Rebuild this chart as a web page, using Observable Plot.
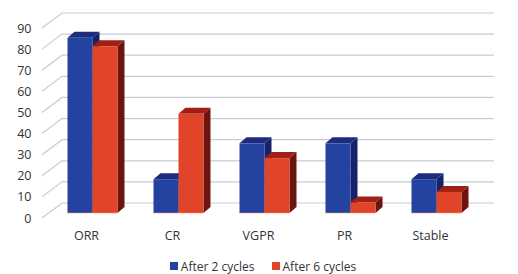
<!DOCTYPE html>
<html>
<head>
<meta charset="utf-8">
<script src="https://cdn.jsdelivr.net/npm/d3@7"></script>
<script src="https://cdn.jsdelivr.net/npm/@observablehq/plot@0.6"></script>
<style>
  body { margin: 0; background: #fff; font-family: "Open Sans", sans-serif; }
  #chart { width: 518px; height: 274px; overflow: hidden; }
  .legend { display: flex; justify-content: center; gap: 17px; font-size: 12px; color: #333; height: 24px; align-items: center; margin-top: 4px; padding-left: 8px; }
  .legend span { display: inline-flex; align-items: center; }
  .legend i { display: inline-block; width: 8px; height: 8px; margin-right: 3px; }
</style>
</head>
<body>
<div id="chart"></div>
<script>
// Response rates (%) by category after 2 and 6 treatment cycles
const categories = ["ORR", "CR", "VGPR", "PR", "Stable"];
const seriesNames = ["After 2 cycles", "After 6 cycles"];
const after2 = [83, 16, 33, 33, 16];
const after6 = [79, 47, 26, 5, 10];
const yTicks = [0, 10, 20, 30, 40, 50, 60, 70, 80, 90];

// Face shading for the extruded columns: front, top, side
const faceColors = {
  "After 2 cycles": { front: "#2442a0", top: "#1d2c7e", side: "#18226a" },
  "After 6 cycles": { front: "#e0452a", top: "#a11f15", side: "#6c150e" }
};

const rows = [];
categories.forEach((c, i) => {
  rows.push({ cat: c, series: seriesNames[0], value: after2[i], s: 0 });
  rows.push({ cat: c, series: seriesNames[1], value: after6[i], s: 1 });
});

const W = 518, H = 250;
const wall = { dx: 20, dy: -15 };   // offset of the back wall
const bar = { offset: 24.5, width: 25, lift: 5, depthX: 7, depthY: -6 };

// Gridlines: a diagonal on the side wall, then across the back wall
function gridRender(index, scales, values, dims) {
  const g = d3.create("svg:g");
  const xl = dims.marginLeft, xr = dims.width - dims.marginRight;
  for (const i of index) {
    const y = values.y[i];
    g.append("path")
      .attr("d", `M${xl},${y}L${xl + wall.dx},${y + wall.dy}L${xr + wall.dx},${y + wall.dy}`)
      .attr("fill", "none")
      .attr("stroke", "#cacad8")
      .attr("stroke-width", 1.2);
  }
  return g.node();
}

// Columns drawn as boxes: side, top, then front face
function boxRender(index, scales, values, dims) {
  const g = d3.create("svg:g");
  const order = Array.from(index).sort((a, b) => values.x[a] - values.x[b] || rows[a].s - rows[b].s);
  for (const i of order) {
    const d = rows[i];
    const c = faceColors[d.series];
    const x0 = values.x[i] + bar.offset + d.s * bar.width;
    const x1 = x0 + bar.width;
    const yb = values.y1[i] - bar.lift;
    const yt = values.y2[i] - bar.lift;
    const ddx = bar.depthX, ddy = bar.depthY;
    g.append("path")
      .attr("d", `M${x1},${yt}L${x1 + ddx},${yt + ddy}L${x1 + ddx},${yb + ddy}L${x1},${yb}Z`)
      .attr("fill", c.side);
    g.append("path")
      .attr("d", `M${x0},${yt}L${x1},${yt}L${x1 + ddx},${yt + ddy}L${x0 + ddx},${yt + ddy}Z`)
      .attr("fill", c.top);
    g.append("rect")
      .attr("x", x0).attr("y", yt)
      .attr("width", bar.width).attr("height", Math.max(0, yb - yt))
      .attr("fill", values.fill ? values.fill[i] : c.front);
    g.append("line")
      .attr("x1", x0).attr("x2", x1).attr("y1", yb).attr("y2", yb)
      .attr("stroke", "#f0a060").attr("stroke-width", 0.8).attr("opacity", 0.7);
  }
  return g.node();
}

const chart = Plot.plot({
  width: W,
  height: H,
  marginLeft: 42,
  marginRight: 44,
  marginTop: 28,
  marginBottom: 32,
  style: { fontFamily: "Open Sans, sans-serif", fontSize: "12.5px", color: "#333", background: "#fff" },
  x: { domain: categories, padding: 0, label: null },
  y: { domain: [0, 90], label: null },
  color: { domain: seriesNames, range: seriesNames.map(s => faceColors[s].front) },
  marks: [
    Plot.ruleY(yTicks, { y: d => d, render: gridRender }),
    Plot.barY(rows, { x: "cat", y1: 0, y2: "value", fill: "series", render: boxRender }),
    Plot.axisY(yTicks, { tickSize: 0, tickPadding: 11, label: null }),
    Plot.axisX({ tickSize: 0, tickPadding: 13, label: null })
  ]
});

const root = document.getElementById("chart");
root.appendChild(chart);

const legend = document.createElement("div");
legend.className = "legend";
legend.innerHTML = seriesNames
  .map(s => `<span><i style="background:${faceColors[s].front}"></i>${s}</span>`)
  .join("");
root.appendChild(legend);
</script>
</body>
</html>
